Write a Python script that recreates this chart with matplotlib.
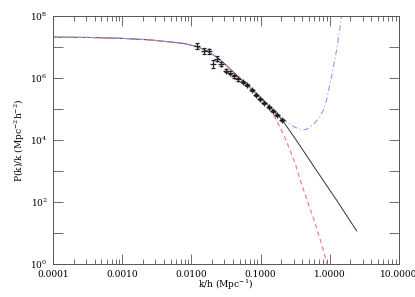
import numpy as np
import matplotlib
matplotlib.use("Agg")
import matplotlib.pyplot as plt
from matplotlib.ticker import FixedLocator, FixedFormatter, NullFormatter

# model curves as (log10 k, log10 P/k)
common_logk = [-4.0, -3.5, -3.0, -2.6, -2.12, -1.93, -1.78, -1.63, -1.5, -1.3, -1.1, -0.9]
common_logy = [7.32, 7.31, 7.28, 7.23, 7.12, 7.02, 6.88, 6.67, 6.42, 6.0, 5.58, 5.15]

black_logk = [-0.69, -0.5, -0.2, 0.1, 0.39]
black_logy = [4.66, 4.05, 3.05, 2.06, 1.07]

red_logk = [-0.86, -0.79, -0.65, -0.5, -0.41, -0.31, -0.21, -0.12, -0.045, -0.02]
red_logy = [4.97, 4.72, 4.1, 3.25, 2.6, 1.96, 1.31, 0.67, 0.07, -0.15]

blue_logk = [-0.69, -0.575, -0.5, -0.43, -0.38, -0.33, -0.29, -0.22, -0.14, -0.09,
             -0.045, 0.027, 0.1, 0.157, 0.19]
blue_logy = [4.72, 4.50, 4.41, 4.35, 4.33, 4.35, 4.41, 4.54, 4.75, 4.98,
             5.29, 6.04, 6.90, 7.76, 8.3]

# measured points
pt_k = [0.012, 0.0152, 0.0178, 0.0204, 0.0236, 0.027, 0.032, 0.036, 0.041, 0.048,
        0.055, 0.063, 0.075, 0.086, 0.098, 0.114, 0.131, 0.152, 0.173, 0.204]
pt_logy = [7.03, 6.88, 6.86, 6.45, 6.62, 6.45, 6.24, 6.17, 6.06, 5.96,
           5.87, 5.78, 5.61, 5.46, 5.33, 5.20, 5.07, 4.93, 4.80, 4.65]
pt_err = [0.09, 0.1, 0.08, 0.12, 0.08, 0.07, 0.06, 0.05, 0.05, 0.05,
          0.04, 0.04, 0.04, 0.04, 0.04, 0.04, 0.04, 0.04, 0.04, 0.04]

xticks = [1e-4, 1e-3, 1e-2, 1e-1, 1, 10]
xlabels = ["0.0001", "0.0010", "0.0100", "0.1000", "1.0000", "10.0000"]
yticks = [1, 1e2, 1e4, 1e6, 1e8]
ylabels = ["10$^0$", "10$^2$", "10$^4$", "10$^6$", "10$^8$"]

plt.rcParams['font.family'] = ['DejaVu Serif']
plt.rcParams['mathtext.fontset'] = 'dejavuserif'

fig = plt.figure(figsize=(4.15, 2.97), dpi=100)
ax = fig.add_axes([0.128, 0.111, 0.833, 0.835])

ck = 10 ** np.array(common_logk)
cy = 10 ** np.array(common_logy)
bk = np.concatenate([ck, 10 ** np.array(black_logk)])
by = np.concatenate([cy, 10 ** np.array(black_logy)])
rk = np.concatenate([ck, 10 ** np.array(red_logk)])
ry = np.concatenate([cy, 10 ** np.array(red_logy)])
uk = np.concatenate([ck, 10 ** np.array(blue_logk)])
uy = np.concatenate([cy, 10 ** np.array(blue_logy)])

# black underneath, dashed models on top
ax.plot(bk, by, color='#333333', lw=0.7)
ax.plot(rk, ry, color='#ff7070', lw=0.8, ls=(0, (4, 3)))
ax.plot(uk, uy, color='#9494ff', lw=0.8, ls=(0, (5, 2.5, 1, 2.5)))

py = 10 ** np.array(pt_logy)
pe = np.array(pt_err)
ax.errorbar(pt_k, py, yerr=[py * (1 - 10 ** -pe), py * (10 ** pe - 1)],
            fmt='+', color='#222222', ms=4.5, mew=0.9, elinewidth=0.6,
            capsize=1.5, capthick=0.6)

ax.set_xscale('log')
ax.set_yscale('log')
ax.set_xlim(1e-4, 10)
ax.set_ylim(1, 1e8)

ax.xaxis.set_major_locator(FixedLocator(xticks))
ax.xaxis.set_major_formatter(FixedFormatter(xlabels))
ax.yaxis.set_major_locator(FixedLocator(yticks))
ax.yaxis.set_major_formatter(FixedFormatter(ylabels))
ax.yaxis.set_minor_locator(FixedLocator([10.0 ** e for e in range(1, 8, 2)]))
ax.yaxis.set_minor_formatter(NullFormatter())

ax.tick_params(which='both', direction='in', top=True, right=True,
               labelsize=6.5, color='#555555', width=0.6, pad=4)
ax.tick_params(which='major', length=7)
ax.tick_params(axis='x', which='minor', length=3.5)
ax.tick_params(axis='y', which='minor', length=7)
for s in ax.spines.values():
    s.set_color('#555555')
    s.set_linewidth(0.7)

ax.set_xlabel("k/h (Mpc$^{-1}$)", fontsize=6.5, labelpad=-1)
ax.set_ylabel("P(k)/k (Mpc$^{-2}$h$^{-2}$)", fontsize=6.5, labelpad=2)

fig.savefig("out.png", dpi=100)
